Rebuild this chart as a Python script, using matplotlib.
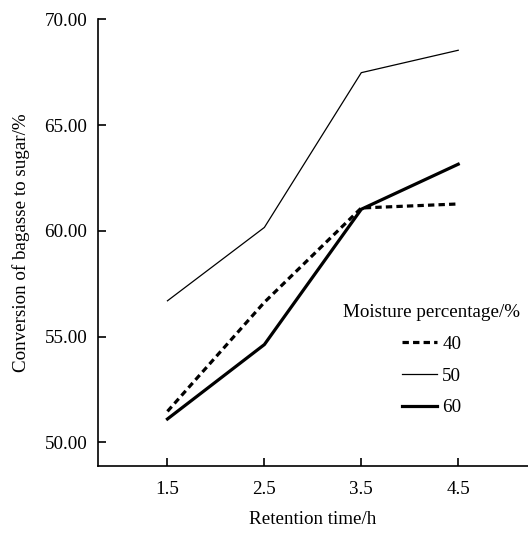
import numpy as np
import matplotlib.pyplot as plt

plt.rcParams['font.family'] = ['Liberation Serif', 'DejaVu Serif']

# retention time (h) and conversion (%) per moisture percentage
time_h = [1.5, 2.5, 3.5, 4.5]
moist_40 = [51.46, 56.62, 61.08, 61.27]
moist_50 = [56.69, 60.16, 67.48, 68.54]
moist_60 = [51.10, 54.62, 61.02, 63.15]
yticks = [50, 55, 60, 65, 70]

fig = plt.figure(figsize=(5.28, 5.54), dpi=100)
ax = fig.add_axes([0.185, 0.159, 0.815, 0.806])

ax.plot(time_h, moist_40, color='black', lw=2.3, dashes=(2.0, 1.3), label='40')
ax.plot(time_h, moist_50, color='black', lw=0.9, label='50')
ax.plot(time_h, moist_60, color='black', lw=2.3, label='60')

ax.set_xlim(0.78, 5.22)
ax.set_ylim(48.88, 70)
ax.set_xticks(time_h)
ax.set_xticklabels(['1.5', '2.5', '3.5', '4.5'])
ax.set_yticks(yticks)
ax.set_yticklabels(['%.2f' % v for v in yticks])
ax.tick_params(direction='in', length=6, width=1.2, labelsize=13.7)
ax.tick_params(axis='y', pad=7.5)
ax.tick_params(axis='x', pad=11)
for s in ['top', 'right']:
    ax.spines[s].set_visible(False)
for s in ['left', 'bottom']:
    ax.spines[s].set_linewidth(1.2)

ax.set_xlabel('Retention time/h', fontsize=13.7, labelpad=9)
ax.set_ylabel('Conversion of bagasse to sugar/%', fontsize=13.7, labelpad=10)

leg = ax.legend(title='Moisture percentage/%', frameon=False, fontsize=13.7,
                title_fontsize=13.7, loc='upper left', bbox_to_anchor=(0.531, 0.40),
                handlelength=1.8, handletextpad=0.3, labelspacing=0.75)

plt.savefig('out.png', dpi=100)
